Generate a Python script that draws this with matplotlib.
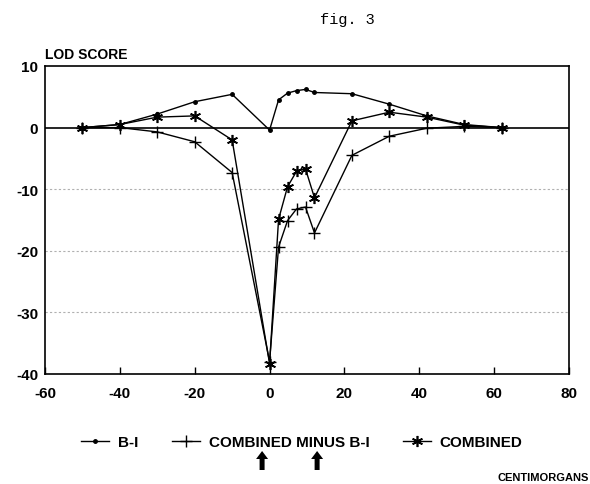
import numpy as np
import matplotlib
matplotlib.use("Agg")
import matplotlib.pyplot as plt
from matplotlib.lines import Line2D
from matplotlib.patches import FancyArrow
from matplotlib.transforms import IdentityTransform

# positions in centimorgans
cm = [-50, -40, -30, -20, -10, 0, 2.4, 4.8, 7.2, 9.6, 12, 22, 32, 42, 52, 62]

# LOD scores
lod_bi = [0, 0.5, 2.2, 4.2, 5.4, -0.4, 4.5, 5.6, 6.0, 6.2, 5.7, 5.5, 3.8, 1.9, 0.5, 0]
lod_cmb = [0, 0, -0.7, -2.3, -7.3, -38.0, -19.4, -15.1, -13.2, -12.9, -17.1, -4.5, -1.4, -0.1, 0.2, 0]
lod_comb = [0, 0.5, 1.7, 1.9, -2.0, -38.3, -14.9, -9.6, -7.1, -6.7, -11.4, 1.1, 2.5, 1.7, 0.4, 0]

legend_labels = ["B-I", "COMBINED MINUS B-I", "COMBINED"]
arrow_cm = [-2, 12.7]

xticks = [-60, -40, -20, 0, 20, 40, 60, 80]
yticks = [-40, -30, -20, -10, 0, 10]

plt.rcParams["font.family"] = ["Liberation Sans", "DejaVu Sans"]
plt.rcParams["font.weight"] = "bold"

W, H = 590, 485
fig = plt.figure(figsize=(W / 100, H / 100), dpi=100)
ax = fig.add_axes([45 / W, 1 - 375 / H, (569 - 45) / W, (375 - 67) / H])

ax.set_xlim(-60, 80)
ax.set_ylim(-40, 10)

# dotted grid lines and the zero line
for y in [-10, -20, -30]:
    ax.axhline(y, color="#b0b0b0", lw=0.8, ls=(0, (2, 2)), zorder=0)
ax.axhline(0, color="black", lw=1.2, zorder=1)

star = (6, 2, 0)
ax.plot(cm, lod_bi, color="black", lw=1, marker="o", ms=2.5, zorder=3)
ax.plot(cm, lod_cmb, color="black", lw=1, marker="+", ms=9, mew=1, zorder=3)
ax.plot(cm, lod_comb, color="black", lw=1, marker=star, ms=8, mew=1.2, zorder=3)

for s in ax.spines.values():
    s.set_linewidth(1.2)

ax.set_xticks(xticks)
ax.set_yticks(yticks)
ax.tick_params(axis="x", direction="in", length=5, width=1, pad=9, labelsize=11)
ax.tick_params(axis="y", length=0, pad=5, labelsize=11)
ax.set_xticklabels([str(t) for t in xticks], fontweight="bold")
ax.set_yticklabels([str(t) for t in yticks], fontweight="bold")

fig.text(45 / W, 1 - 55 / H, "LOD SCORE", fontsize=10, fontweight="bold",
         ha="left", va="center")
fig.text(347 / W, 1 - 20 / H, "fig. 3", fontsize=11, family="Liberation Mono",
         fontweight="normal", ha="center", va="center")
fig.text(589 / W, 1 - 478 / H, "CENTIMORGANS", fontsize=8, fontweight="bold",
         ha="right", va="center")

handles = [
    Line2D([], [], color="black", lw=1, marker="o", ms=2.5),
    Line2D([], [], color="black", lw=1, marker="+", ms=9, mew=1),
    Line2D([], [], color="black", lw=1, marker=star, ms=8, mew=1.2),
]
fig.legend(handles, legend_labels, loc="center", bbox_to_anchor=(302 / W, 1 - 443 / H),
           ncol=3, frameon=False, handlelength=1.8, handletextpad=0.6,
           columnspacing=2.2, prop={"weight": "bold", "size": 11})

# the two arrows under the legend, drawn in pixel space
for xc in arrow_cm:
    px = ax.transData.transform((xc, 0))[0]
    fig.add_artist(FancyArrow(px, H - 471, 0, 19, width=5, head_width=12,
                              head_length=8, length_includes_head=True,
                              color="black", lw=0, transform=IdentityTransform()))

fig.savefig("out.png", dpi=100)
